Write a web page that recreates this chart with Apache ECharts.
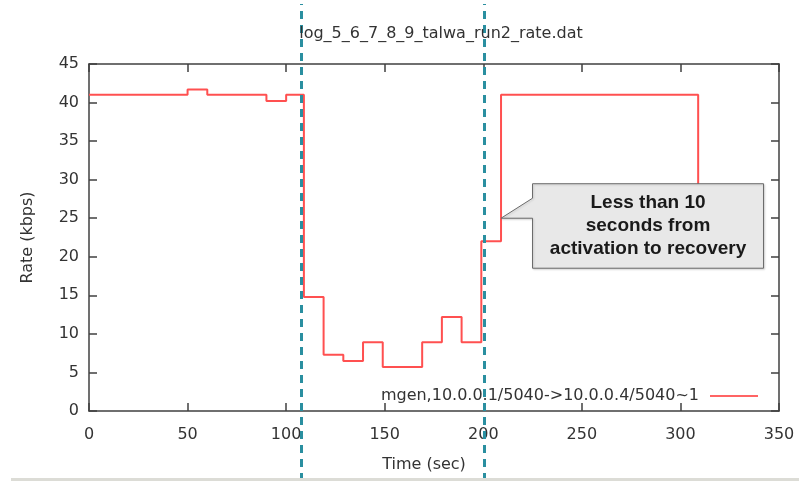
<!DOCTYPE html>
<html>
<head>
<meta charset="utf-8">
<script src="https://cdn.jsdelivr.net/npm/echarts@6/dist/echarts.min.js"></script>
<style>
html,body{margin:0;padding:0;background:#fff;}
#main{width:799px;height:481px;}
</style>
</head>
<body>
<div id="main"></div>
<script>
// ---- data ----
const chartTitle = 'log_5_6_7_8_9_talwa_run2_rate.dat';
const seriesName = 'mgen,10.0.0.1/5040->10.0.0.4/5040~1';
const times = [0, 10, 20, 30, 40, 50, 60, 70, 80, 90, 100, 109, 119, 129, 139, 149, 159, 169, 179, 189, 199, 209, 219, 229, 239, 249, 259, 269, 279, 289, 299, 309];
const rates = [41, 41, 41, 41, 41, 41.7, 41, 41, 41, 40.2, 41, 14.8, 7.3, 6.5, 8.9, 5.7, 5.7, 8.9, 12.2, 8.9, 22, 41, 41, 41, 41, 41, 41, 41, 41, 41, 41, 24];
const markerTimes = [107.5, 200.5];          // activation / recovery markers
const xTicks = { min: 0, max: 350, interval: 50 };
const yTicks = { min: 0, max: 45, interval: 5 };
const calloutAnchor = [209, 25];
const calloutText = ['Less than 10', 'seconds from', 'activation to recovery'];

const FONT = 'DejaVu Sans';
const AX = '#404040';
const TXT = '#333';

const chart = echarts.init(document.getElementById('main'), null, { renderer: 'canvas' });

const baseAxisLine = { show: true, onZero: false, lineStyle: { color: AX, width: 1.5 } };
const baseTick = { show: true, inside: true, length: 8, lineStyle: { color: AX, width: 1.5 } };

const option = {
  animation: false,
  backgroundColor: '#fff',
  title: {
    text: chartTitle, left: 436, top: 21, textAlign: 'center',
    textStyle: { fontFamily: FONT, fontSize: 16, fontWeight: 'normal', color: TXT }
  },
  grid: [
    { left: 89, right: 20, top: 64, bottom: 70 },
    { left: 89, right: 20, top: 4, bottom: 0 }
  ],
  legend: {
    data: [seriesName], right: 36, top: 383, align: 'right',
    icon: 'rect', itemWidth: 48, itemHeight: 1.5, itemGap: 0,
    textStyle: { fontFamily: FONT, fontSize: 16, color: TXT, padding: [0, 6, 0, 0] }
  },
  xAxis: [
    {
      gridIndex: 0, type: 'value', position: 'bottom', min: xTicks.min, max: xTicks.max, interval: xTicks.interval,
      axisLine: baseAxisLine, axisTick: baseTick, splitLine: { show: false },
      axisLabel: { fontFamily: FONT, fontSize: 16, color: TXT, margin: 16 },
      name: 'Time (sec)', nameLocation: 'middle', nameGap: 46,
      nameTextStyle: { fontFamily: FONT, fontSize: 16, color: TXT, padding: [0, 20, 0, 0] }
    },
    {
      gridIndex: 0, type: 'value', position: 'top', min: xTicks.min, max: xTicks.max, interval: xTicks.interval,
      axisLine: baseAxisLine, axisTick: baseTick, splitLine: { show: false }, axisLabel: { show: false }
    },
    { gridIndex: 1, type: 'value', min: xTicks.min, max: xTicks.max, show: false }
  ],
  yAxis: [
    {
      gridIndex: 0, type: 'value', position: 'left', min: yTicks.min, max: yTicks.max, interval: yTicks.interval,
      axisLine: baseAxisLine, axisTick: baseTick, splitLine: { show: false },
      axisLabel: { fontFamily: FONT, fontSize: 16, color: TXT, margin: 10 },
      name: 'Rate (kbps)', nameLocation: 'middle', nameGap: 53,
      nameTextStyle: { fontFamily: FONT, fontSize: 16, color: TXT }
    },
    {
      gridIndex: 0, type: 'value', position: 'right', min: yTicks.min, max: yTicks.max, interval: yTicks.interval,
      axisLine: baseAxisLine, axisTick: baseTick, splitLine: { show: false }, axisLabel: { show: false }
    },
    { gridIndex: 1, type: 'value', min: 0, max: 1, show: false }
  ],
  series: [
    {
      name: seriesName, type: 'line', step: 'end', xAxisIndex: 0, yAxisIndex: 0,
      data: times.map((t, i) => [t, rates[i]]),
      showSymbol: false, symbol: 'none',
      lineStyle: { color: '#ff5050', width: 2 },
      itemStyle: { color: '#ff3030' },
      z: 3
    },
    {
      name: 'markers', type: 'line', xAxisIndex: 2, yAxisIndex: 2, data: [], silent: true,
      z: 5,
      markLine: {
        silent: true, symbol: 'none', animation: false,
        label: { show: false },
        lineStyle: { color: '#2a8fa0', width: 3, type: [8, 6] },
        data: markerTimes.map(t => ({ xAxis: t }))
      }
    }
  ]
};
chart.setOption(option);

// callout anchored at a data point through the chart's own scales
const tip = chart.convertToPixel({ xAxisIndex: 0, yAxisIndex: 0 }, calloutAnchor);
const bx0 = tip[0] + 31.5, bx1 = tip[0] + 262.5, by0 = tip[1] - 34.5, by1 = tip[1] + 50;
const tailTop = tip[1] - 20;
chart.setOption({
  graphic: [
    {
      type: 'polygon', z: 20,
      shape: { points: [[bx0, by0], [bx1, by0], [bx1, by1], [bx0, by1], [bx0, tip[1]], tip, [bx0, tailTop]] },
      style: { fill: '#e8e8e8', stroke: '#6a6a6a', lineWidth: 1, shadowBlur: 2, shadowColor: 'rgba(0,0,0,0.15)', shadowOffsetX: 1, shadowOffsetY: 1 }
    },
    {
      type: 'text', z: 21,
      x: (bx0 + bx1) / 2, y: (by0 + by1) / 2,
      style: {
        text: calloutText.join('\n'), align: 'center', verticalAlign: 'middle',
        font: 'bold 19px "Liberation Sans", Arial, sans-serif', lineHeight: 23, fill: '#1a1a1a'
      }
    },
    {
      type: 'rect', z: 30, left: 11, bottom: 0,
      shape: { width: 788, height: 3 },
      style: { fill: '#dcdcd6' }
    }
  ]
});
</script>
</body>
</html>
